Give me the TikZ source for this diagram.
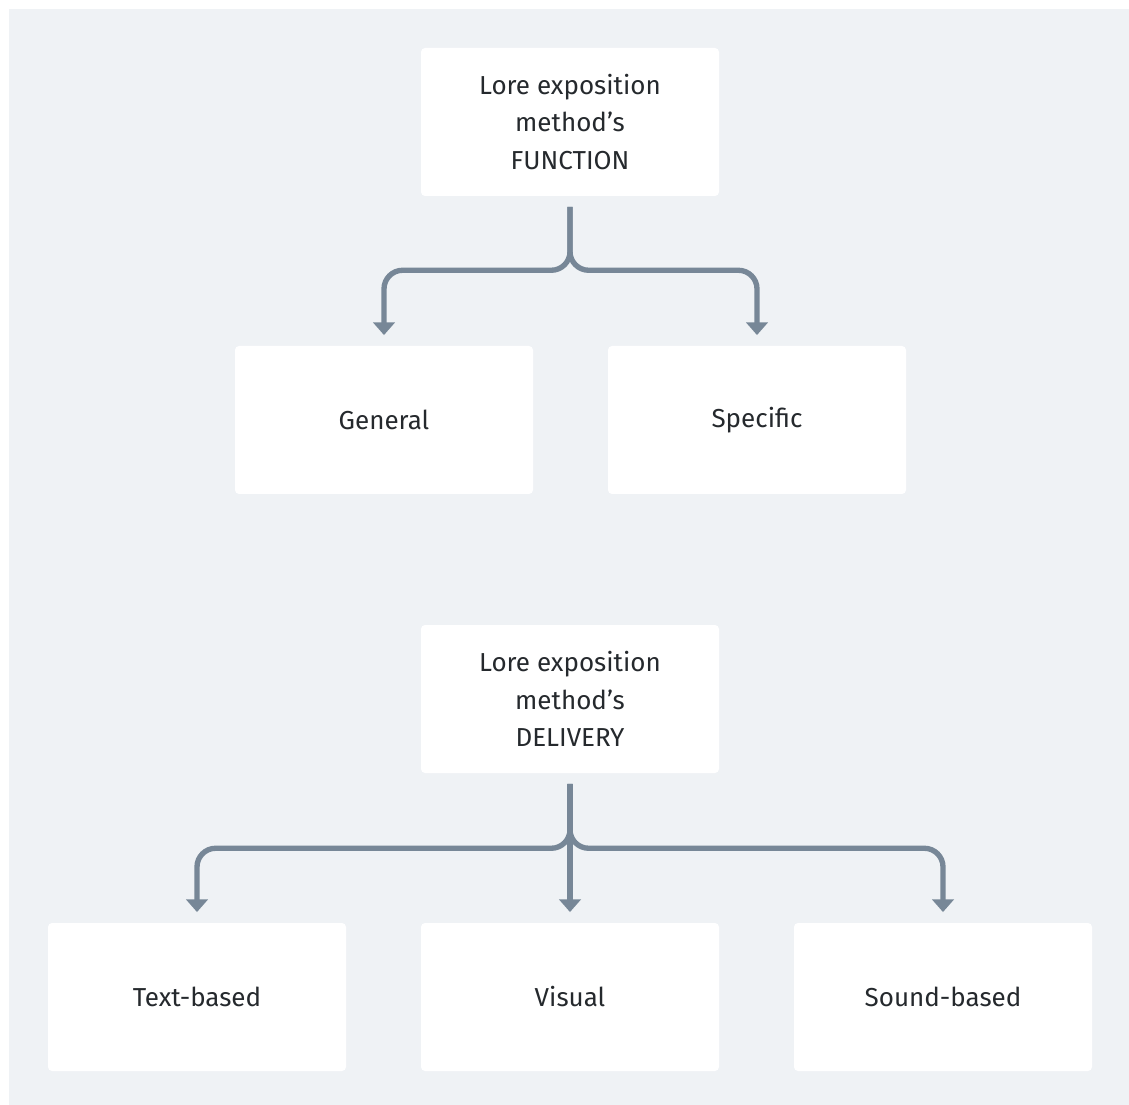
\documentclass[tikz,border=0pt]{standalone}
\usepackage{fontspec}
\setmainfont{Fira Sans}
\usetikzlibrary{arrows.meta}

\definecolor{panelgray}{HTML}{EFF2F5}
\definecolor{linkgray}{HTML}{778797}
\definecolor{textgray}{HTML}{25292D}

\tikzset{
  card/.style={fill=white, rounded corners=3pt, minimum width=223.5pt, minimum height=111pt,
    align=center, text=textgray, font=\fontsize{19.5}{28}\selectfont, inner sep=0pt},
  branch/.style={draw=linkgray, line width=4pt, rounded corners=14pt,
    -{Triangle[width=16pt,length=9.5pt]}, shorten <=8pt, shorten >=8pt}
}

\begin{document}
\begin{tikzpicture}[x=0.75pt,y=0.75pt,yscale=-1,xscale=1]
\useasboundingbox (0,0) rectangle (1129,1105);
%Background panel
\fill[panelgray] (9,9) rectangle (1129,1105);

% Top tree
\node[card] (function) at (570,122) {Lore exposition\\method's\\FUNCTION};
\node[card] (general) at (384,420) {General};
\node[card] (specific) at (757,420) {Specific};

% Bottom tree
\node[card] (delivery) at (570,699) {Lore exposition\\method's\\DELIVERY};
\node[card] (textbased) at (197,997) {Text-based};
\node[card] (visual) at (570,997) {Visual};
\node[card] (soundbased) at (943,997) {Sound-based};

%Connectors
\draw[branch] (function.south) -- ++(0,74) -| (general.north);
\draw[branch] (function.south) -- ++(0,74) -| (specific.north);

\draw[branch] (delivery.south) -- ++(0,75) -| (textbased.north);
\draw[branch] (delivery.south) -- (visual.north);
\draw[branch] (delivery.south) -- ++(0,75) -| (soundbased.north);

\end{tikzpicture}
\end{document}
